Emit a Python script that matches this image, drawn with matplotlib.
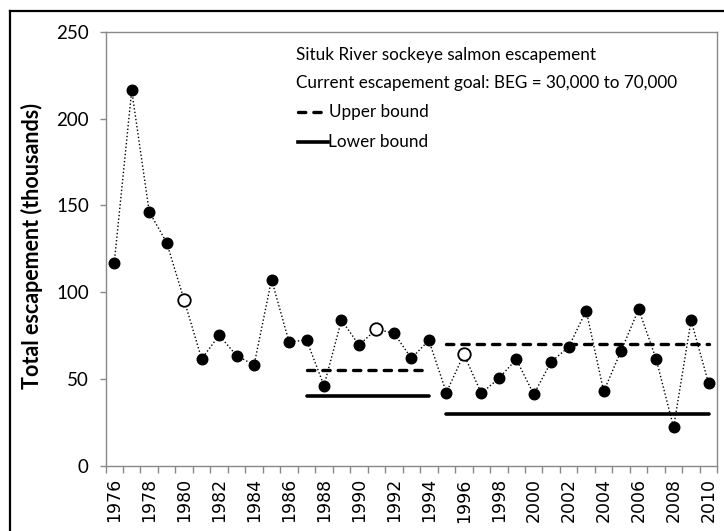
import matplotlib
matplotlib.use("Agg")
import matplotlib.pyplot as plt
from matplotlib.lines import Line2D

# Situk River sockeye salmon escapement (thousands)
years = list(range(1976, 2011))
escapement = [116.8, 216.2, 146.3, 128.5, 95.4, 61.5, 75.1, 63.4, 58.0, 107.2,
              71.3, 72.4, 46.1, 83.9, 69.5, 78.6, 76.3, 61.9, 72.2, 42.1,
              64.2, 41.7, 50.3, 61.3, 41.1, 59.9, 68.4, 89.3, 42.8, 66.2,
              90.1, 61.5, 22.1, 83.7, 47.5]
open_years = [1980, 1991, 1996]   # hollow markers

# escapement goal bounds (thousands)
goal_periods = [(1987, 1994), (1995, 2010)]
goal_upper = [55, 70]
goal_lower = [40, 30]

y_ticks = [0, 50, 100, 150, 200, 250]
label_years = years[::2]

W, H = 724, 531
fig = plt.figure(figsize=(W / 100, H / 100), dpi=100)
ax = fig.add_axes([105.5 / W, 1 - 465.7 / H, (717.3 - 105.5) / W, (465.7 - 31.7) / H])

x = list(range(len(years)))
ax.plot(x, escapement, color="black", lw=1.0, ls=(0, (1, 1.6)), zorder=2)
solid_x = [i for i, y in enumerate(years) if y not in open_years]
solid_y = [escapement[i] for i in solid_x]
open_x = [i for i, y in enumerate(years) if y in open_years]
open_y = [escapement[i] for i in open_x]
ax.plot(solid_x, solid_y, "o", color="black", ms=7.6, zorder=3)
ax.plot(open_x, open_y, "o", mfc="white", mec="black", mew=1.3, ms=9, zorder=3)

for (y0, y1), up, lo in zip(goal_periods, goal_upper, goal_lower):
    xs = [years.index(y0), years.index(y1)]
    ax.plot(xs, [up, up], color="black", lw=2.4, ls=(0, (2.2, 2.4)),
            dash_capstyle="round", zorder=1)
    ax.plot(xs, [lo, lo], color="black", lw=2.6, solid_capstyle="round", zorder=1)

ax.set_xlim(-0.5, len(years) - 0.5)
ax.set_ylim(0, 250)
ax.set_yticks(y_ticks)
ax.set_xticks([years.index(y) for y in label_years])
ax.set_xticklabels([str(y) for y in label_years], rotation=90,
                   family=["Liberation Sans Narrow", "DejaVu Sans"], fontsize=12.5)
ax.set_xticks([i - 0.5 for i in range(len(years) + 1)], minor=True)
ax.tick_params(axis="x", which="major", length=0, pad=9)
ax.tick_params(axis="x", which="minor", length=5, color="#898989", width=1)
ax.tick_params(axis="y", length=4, color="#898989", width=1, pad=8)
for lab in ax.get_yticklabels():
    lab.set_family("Lato")
    lab.set_fontsize(13.5)
for s in ax.spines.values():
    s.set_color("#898989")
    s.set_linewidth(1)

fig.text(32 / W, 1 - 246 / H, "Total escapement (thousands)", rotation=90,
         ha="center", va="center", family="Lato", fontweight="bold", fontsize=15.5)

# legend block
tf = fig.transFigure
fs = 12.3
fig.text(296 / W, 1 - 55 / H, "Situk River sockeye salmon escapement",
         family="Lato", fontsize=fs, va="center")
fig.text(296 / W, 1 - 83.3 / H, "Current escapement goal: BEG = 30,000 to 70,000",
         family="Lato", fontsize=fs, va="center")
fig.add_artist(Line2D([298 / W, 326 / W], [1 - 111.7 / H] * 2, transform=tf,
                      color="black", lw=2.4, ls=(0, (2.2, 2.4)), dash_capstyle="round"))
fig.text(329 / W, 1 - 111.7 / H, "Upper bound", family="Lato", fontsize=fs, va="center")
fig.add_artist(Line2D([298 / W, 328 / W], [1 - 141.7 / H] * 2, transform=tf,
                      color="black", lw=2.6))
fig.text(328 / W, 1 - 141.7 / H, "Lower bound", family="Lato", fontsize=fs, va="center")

# outer chart border (left and top edges visible)
fig.add_artist(Line2D([10 / W, 10 / W], [0, 1 - 11 / H], transform=tf, color="black", lw=1.6))
fig.add_artist(Line2D([10 / W, 1], [1 - 11 / H] * 2, transform=tf, color="black", lw=1.6))

fig.savefig("out.png", dpi=100)
